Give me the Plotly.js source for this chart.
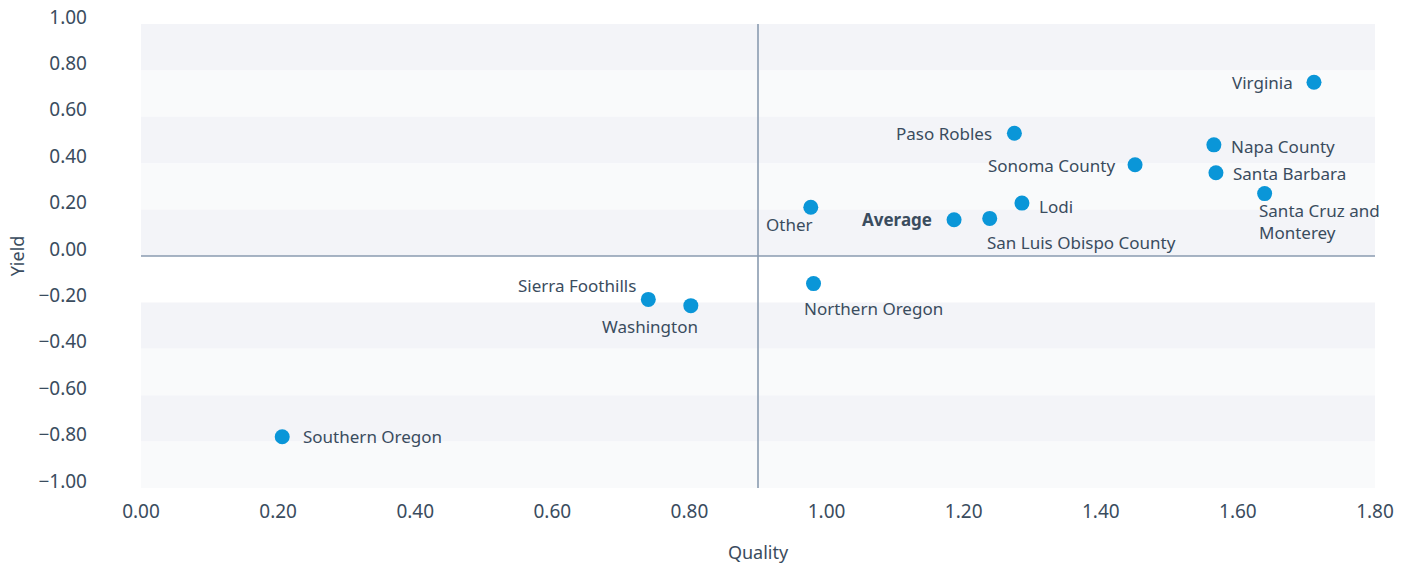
<!DOCTYPE html>
<html>
<head>
<meta charset="utf-8">
<script src="https://cdn.plot.ly/plotly-3.0.1.min.js"></script>
<style>html,body{margin:0;padding:0;background:#fff;}#chart{width:1413px;height:567px;}</style>
</head>
<body>
<div id="chart"></div>
<script>
// Data
const regions = ["Virginia","Paso Robles","Napa County","Sonoma County","Santa Barbara","Santa Cruz and<br>Monterey","Lodi","Other","Average","San Luis Obispo County","Northern Oregon","Sierra Foothills","Washington","Southern Oregon"];
const quality = [1.711, 1.274, 1.565, 1.450, 1.568, 1.639, 1.285, 0.977, 1.186, 1.238, 0.981, 0.740, 0.802, 0.206];
const yieldVals = [0.749, 0.529, 0.479, 0.393, 0.359, 0.269, 0.228, 0.210, 0.156, 0.162, -0.119, -0.187, -0.214, -0.779];
const avgQualityLine = 0.90;
const avgYieldLine = 0.0;
const xTickVals = [0, 0.2, 0.4, 0.6, 0.8, 1.0, 1.2, 1.4, 1.6, 1.8];
const yTickVals = [1.0, 0.8, 0.6, 0.4, 0.2, 0.0, -0.2, -0.4, -0.6, -0.8, -1.0];

const fmt = v => (v < 0 ? "\u2212" : "") + Math.abs(v).toFixed(2);

// label placement (style only)
const labelStyle = {
  "Virginia": {xanchor:"right", xshift:-19, yshift:0},
  "Paso Robles": {xanchor:"right", xshift:-20, yshift:0},
  "Napa County": {xanchor:"left", xshift:15, yshift:-2},
  "Sonoma County": {xanchor:"right", xshift:-18, yshift:-1},
  "Santa Barbara": {xanchor:"left", xshift:15, yshift:-1},
  "Santa Cruz and<br>Monterey": {xanchor:"left", xshift:-8, yshift:-28},
  "Lodi": {xanchor:"left", xshift:15, yshift:-3},
  "Other": {xanchor:"right", xshift:4, yshift:-17},
  "Average": {xanchor:"right", xshift:-20, yshift:0, bold:true},
  "San Luis Obispo County": {xanchor:"left", xshift:-5, yshift:-24},
  "Northern Oregon": {xanchor:"left", xshift:-12, yshift:-25},
  "Sierra Foothills": {xanchor:"right", xshift:-10, yshift:14},
  "Washington": {xanchor:"right", xshift:9, yshift:-21},
  "Southern Oregon": {xanchor:"left", xshift:19, yshift:0}
};

const textColor = "#3a4c5e";
const fontFam = "'Noto Sans', 'Open Sans', sans-serif";

const annotations = regions.map((r, i) => {
  const s = labelStyle[r];
  return {
    x: quality[i], y: yieldVals[i], xref: "x", yref: "y",
    text: s.bold ? "<b>" + r + "</b>" : r,
    showarrow: false, xanchor: s.xanchor, yanchor: "middle",
    xshift: s.xshift, yshift: s.yshift, align: "left",
    font: {family: fontFam, size: 17, color: textColor}
  };
});

// background bands
const bandColors = ["#f3f4f8","#f9fafb","#f3f4f8","#f9fafb","#f3f4f8","#ffffff","#f3f4f8","#f9fafb","#f3f4f8","#f9fafb"];
const shapes = [];
for (let i = 0; i < yTickVals.length - 1; i++) {
  shapes.push({type:"rect", xref:"paper", yref:"y", x0:0, x1:1, y0:yTickVals[i+1], y1:yTickVals[i],
    fillcolor: bandColors[i], line:{width:0}, layer:"below"});
}
shapes.push({type:"line", xref:"x", yref:"paper", x0:avgQualityLine, x1:avgQualityLine, y0:0, y1:1, line:{color:"#8a9bb0", width:1.6}, layer:"below"});
shapes.push({type:"line", xref:"paper", yref:"y", x0:0, x1:1, y0:avgYieldLine, y1:avgYieldLine, line:{color:"#8a9bb0", width:1.6}, layer:"below"});

const trace = {
  type: "scatter", mode: "markers",
  x: quality, y: yieldVals,
  marker: {color: "#0a96d8", size: 15, line: {width: 0}},
  hoverinfo: "skip"
};

const layout = {
  width: 1413, height: 567,
  margin: {l: 141, r: 38, t: 24, b: 79},
  paper_bgcolor: "#ffffff", plot_bgcolor: "#ffffff",
  showlegend: false,
  font: {family: fontFam, color: textColor, size: 18},
  xaxis: {
    range: [0, 1.8], showgrid: false, zeroline: false, showline: false,
    tickvals: xTickVals, ticktext: xTickVals.map(fmt), ticks: "",
    tickfont: {size: 19, color: textColor}, ticklabelstandoff: 10,
    title: {text: "Quality", font: {size: 18, color: textColor}, standoff: 23},
    automargin: false, fixedrange: true
  },
  yaxis: {
    range: [-1, 1], showgrid: false, zeroline: false, showline: false,
    tickvals: yTickVals, ticktext: yTickVals.map(fmt), ticks: "",
    tickfont: {size: 19, color: textColor}, ticklabelstandoff: 53, ticklabelshift: -7,
    title: {text: "Yield", font: {size: 18, color: textColor}, standoff: 9},
    automargin: false, fixedrange: true
  },
  shapes: shapes,
  annotations: annotations
};

Plotly.newPlot("chart", [trace], layout, {displayModeBar: false, staticPlot: true});
</script>
</body>
</html>
